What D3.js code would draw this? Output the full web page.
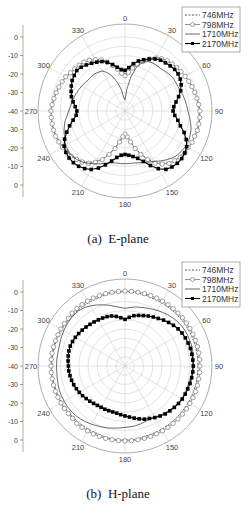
<!DOCTYPE html>
<html>
<head>
<meta charset="utf-8">
<script src="https://cdn.jsdelivr.net/npm/d3@7/dist/d3.min.js"></script>
<style>
  body { margin: 0; background: #fff; }
  svg { display: block; }
</style>
</head>
<body>
<script>
// angles in degrees, every 5 deg, clockwise from top
var ANGLES = d3.range(0, 360, 5);
var SERIES = ["746MHz", "798MHz", "1710MHz", "2170MHz"];
var RADIAL_TICKS = [0, -10, -20, -30, -40, -30, -20, -10, 0];
var ANGLE_TICKS = [0, 30, 60, 90, 120, 150, 180, 210, 240, 270, 300, 330];

// E-plane (dB)
var E_746 = [-20,-18.5,-16,-13.5,-11,-8.5,-6.5,-5,-4.5,-4,-3.5,-3,-2.5,-2,-1.5,-1,-0.5,0,
  0,0.5,0.5,0.5,0,0,-0.5,-1,-1.5,-2,-3.5,-5.5,-8,-11.5,-15.5,-19.5,-23.5,-26.5,
  -28,-26.5,-23.5,-19.5,-15.5,-11.5,-8.5,-6,-4.5,-3.5,-2.5,-2,-1.5,-1,-0.5,0,0,0,
  0,-0.5,-1,-1.5,-2,-2.5,-3.5,-4,-4.5,-5,-5.5,-6.5,-8,-9.5,-11.5,-14,-16.5,-18.5];
var E_798 = [-21,-19,-16.5,-14,-11.5,-9,-7,-5.5,-4.5,-4,-3.5,-3,-2.5,-2,-1.5,-1,-0.5,0,
  0.5,0.5,0.5,0.5,0,0,-0.5,-0.5,-1,-2,-3,-5,-7.5,-11,-15,-19,-23,-26,
  -27.5,-26,-23,-19,-15,-11,-8,-5.5,-4,-3,-2,-1.5,-1,-0.5,0,0,0,0,
  0,-0.5,-1,-1.5,-2,-2.5,-3,-4,-4.5,-5,-5.5,-6.5,-8,-9.5,-12,-14.5,-17,-19.5];
var E_1710 = [-34,-28,-21,-15,-12,-10.5,-10,-10,-10,-9.5,-9,-8.5,-8.5,-8.5,-8,-7.5,-7,-6.5,
  -6,-5,-4,-3,-2.5,-2,-2,-2.5,-3,-4,-5.5,-7,-8.5,-9.5,-10.5,-11,-11.5,-11.5,
  -11.5,-11.5,-11.5,-11,-10,-8.5,-7,-5.5,-4,-3,-2.5,-2.5,-3,-4,-5,-6,-7,-8.5,
  -9.5,-10.5,-11,-11.5,-12,-12.5,-13,-13.5,-14,-14,-14,-14.5,-15,-17,-20,-24,-28,-33];
var E_2170 = [-18,-16.5,-14,-12,-10.5,-9,-7.5,-6.5,-6,-5.5,-5,-5,-5.5,-6.5,-8,-10,-12,-13.5,
  -14,-13,-11,-9,-6,-3.5,-1.5,-0.5,0,0,-0.5,-1.5,-4,-7.5,-11,-13.5,-15,-16,
  -16.5,-16,-14.5,-12,-9,-6,-3.5,-2,-1,-0.5,-0.5,-1,-2,-4,-6.5,-9,-11.5,-13.5,
  -14,-13,-11.5,-10,-9,-8,-7,-6.5,-6,-6.5,-7.5,-8.5,-9.5,-10.5,-12,-14,-16,-17.5];

// H-plane (dB)
var H_746 = [0,0,0,0,-0.5,-0.5,-0.5,-0.5,-0.5,-0.5,-0.5,-0.5,-0.5,-0.5,-0.5,-0.5,-0.5,-0.5,
  -0.5,-0.5,-0.5,-0.5,-0.5,-0.5,-0.5,-0.5,-0.5,-0.5,-0.5,-0.5,-0.5,-0.5,-0.5,-0.5,0,0,
  0,0,0,0,-0.5,-0.5,-0.5,-0.5,-0.5,-0.5,-0.5,-0.5,-0.5,-0.5,-0.5,-0.5,-0.5,-0.5,
  -0.5,-0.5,-0.5,-0.5,-0.5,-0.5,-0.5,-0.5,-0.5,-0.5,-0.5,-0.5,-0.5,-0.5,-0.5,0,0,0];
var H_798 = [0.5,0.5,0.5,0.5,0.5,0.5,0.5,0.5,0.5,0.5,0.5,0.5,0.5,0.5,0.5,0.5,0.5,0.5,
  0.5,0.5,0.5,0.5,0.5,0.5,0.5,0.5,0.5,0.5,0.5,0.5,0.5,0.5,0.5,0.5,0.5,0.5,
  0.5,0.5,0.5,0.5,0.5,0.5,0.5,0.5,0.5,0,0,0,0,0,0,0,0,0,
  0,0,0,0,0,0,0,0,0,0.5,0.5,0.5,0.5,0.5,0.5,0.5,0.5,0.5];
var H_1710 = [-8.8,-8.3,-7.6,-7.2,-6.6,-6,-5.3,-4.6,-3.9,-3.3,-2.8,-2.5,-2.3,-2.3,-2.3,-2.4,-2.6,-2.8,
  -3.2,-3.6,-4,-4.3,-4.3,-4.3,-4.5,-5,-5.6,-6.2,-6.8,-7.4,-8,-8.3,-8,-7.6,-7.2,-7,
  -6.8,-6.4,-5.9,-5.3,-4.8,-4.3,-3.7,-3.1,-2.6,-2.2,-2,-1.9,-2,-2,-2.2,-2.5,-2.8,-3,
  -3,-3,-3,-3,-2.6,-2.2,-1.8,-1.4,-1.1,-1,-1,-1.5,-2.5,-3.6,-4.8,-6,-7.2,-8.2];
var H_2170 = [-14.8,-13.6,-12.4,-11.7,-11,-10.2,-9.4,-8.6,-7.6,-6.7,-5.8,-5,-4.4,-4,-3.7,-3.4,-3.3,-3.2,
  -3.1,-3.2,-3.4,-3.6,-3.9,-4.1,-4.3,-4.7,-5.2,-5.7,-6.2,-7,-7.8,-8.7,-9.4,-10.4,-11.4,-12.3,
  -13,-13.6,-14.1,-14.3,-14.3,-14.2,-14.2,-14,-13.6,-13.1,-12.6,-12,-11.5,-11,-10.5,-10.1,-9.8,-9.5,
  -9.4,-9.1,-8.8,-8.6,-8.5,-8.7,-9,-9.4,-9.8,-10.2,-10.6,-10.9,-11.2,-11.4,-11.6,-12,-12.8,-13.8];

var W = 252, H = 506;
var R_OUTER = 87;

var svg = d3.select("body").append("svg")
  .attr("width", W)
  .attr("height", H)
  .style("font-family", "'Liberation Sans', Arial, sans-serif");

var r = d3.scaleLinear().domain([-40, 0]).range([0, 74]);
var rad = function(deg) { return deg * Math.PI / 180; };

var STYLES = [
  {stroke: "#333", width: 0.8, dash: "2,1.5", marker: null},
  {stroke: "#777", width: 0.8, dash: null, marker: "circle"},
  {stroke: "#444", width: 0.8, dash: null, marker: null},
  {stroke: "#000", width: 1.1, dash: null, marker: "square"}
];

function drawPolar(cy, data, title) {
  var cx = 125;
  var g = svg.append("g").attr("transform", "translate(" + cx + "," + cy + ")");

  // radial grid rings every 5 dB
  g.selectAll("circle.ring")
    .data(d3.range(-35, 1, 5))
    .enter().append("circle")
    .attr("class", "ring")
    .attr("r", function(d) { return r(d); })
    .attr("fill", "none")
    .attr("stroke", "#d0d0d0")
    .attr("stroke-width", 0.6);

  g.selectAll("line.spoke")
    .data(ANGLE_TICKS)
    .enter().append("line")
    .attr("x1", 0).attr("y1", 0)
    .attr("x2", function(d) { return R_OUTER * Math.sin(rad(d)); })
    .attr("y2", function(d) { return -R_OUTER * Math.cos(rad(d)); })
    .attr("stroke", "#d0d0d0")
    .attr("stroke-width", 0.6);

  g.append("circle")
    .attr("r", R_OUTER)
    .attr("fill", "none")
    .attr("stroke", "#999")
    .attr("stroke-width", 0.8);

  g.selectAll("text.ang")
    .data(ANGLE_TICKS)
    .enter().append("text")
    .attr("x", function(d) { return 94 * Math.sin(rad(d)); })
    .attr("y", function(d) { return -93 * Math.cos(rad(d)) + 3; })
    .attr("text-anchor", "middle")
    .attr("font-size", 7.5)
    .attr("fill", "#444")
    .text(function(d) { return d; });

  // left radial axis
  var y = d3.scaleLinear().domain([0, RADIAL_TICKS.length - 1]).range([-74, 74]);
  var ax = svg.append("g").attr("transform", "translate(23," + cy + ")");
  ax.append("line")
    .attr("x1", 0).attr("x2", 0)
    .attr("y1", -R_OUTER + 1).attr("y2", R_OUTER - 1)
    .attr("stroke", "#999").attr("stroke-width", 0.8);
  var t = ax.selectAll("g.tick")
    .data(RADIAL_TICKS)
    .enter().append("g")
    .attr("transform", function(d, i) { return "translate(0," + y(i) + ")"; });
  t.append("line").attr("x1", -3).attr("x2", 0).attr("stroke", "#777").attr("stroke-width", 0.7);
  t.append("text")
    .attr("x", -5).attr("y", 2.5)
    .attr("text-anchor", "end")
    .attr("font-size", 7)
    .attr("fill", "#444")
    .text(function(d) { return d; });

  // curves
  var line = d3.lineRadial()
    .angle(function(d) { return rad(d.a); })
    .radius(function(d) { return r(d.v); })
    .curve(d3.curveLinearClosed);

  data.forEach(function(vals, i) {
    var st = STYLES[i];
    var pts = ANGLES.map(function(a, k) { return {a: a, v: vals[k]}; });
    g.append("path")
      .datum(pts)
      .attr("d", line)
      .attr("fill", "none")
      .attr("stroke", st.stroke)
      .attr("stroke-width", st.width)
      .attr("stroke-dasharray", st.dash);
    var px = function(d) { return r(d.v) * Math.sin(rad(d.a)); };
    var py = function(d) { return -r(d.v) * Math.cos(rad(d.a)); };
    if (st.marker === "circle") {
      g.selectAll(null).data(pts).enter().append("circle")
        .attr("cx", px).attr("cy", py).attr("r", 2.2)
        .attr("fill", "#fff").attr("stroke", st.stroke).attr("stroke-width", 0.7);
    } else if (st.marker === "square") {
      g.selectAll(null).data(pts).enter().append("rect")
        .attr("x", function(d) { return px(d) - 1.8; })
        .attr("y", function(d) { return py(d) - 1.8; })
        .attr("width", 3.6).attr("height", 3.6)
        .attr("fill", "#000");
    }
  });

  // legend
  var lg = svg.append("g").attr("transform", "translate(182," + (cy - 104) + ")");
  lg.append("rect")
    .attr("width", 58).attr("height", 45)
    .attr("fill", "#fff").attr("stroke", "#888").attr("stroke-width", 0.7);
  SERIES.forEach(function(name, i) {
    var st = STYLES[i];
    var ly = 8 + i * 9.5;
    lg.append("line")
      .attr("x1", 3).attr("x2", 18).attr("y1", ly).attr("y2", ly)
      .attr("stroke", st.stroke).attr("stroke-width", st.width)
      .attr("stroke-dasharray", st.dash);
    if (st.marker === "circle") {
      lg.append("circle").attr("cx", 10.5).attr("cy", ly).attr("r", 2)
        .attr("fill", "#fff").attr("stroke", st.stroke).attr("stroke-width", 0.7);
    } else if (st.marker === "square") {
      lg.append("rect").attr("x", 9).attr("y", ly - 1.5).attr("width", 3).attr("height", 3).attr("fill", "#000");
    }
    lg.append("text")
      .attr("x", 20).attr("y", ly + 3)
      .attr("font-size", 8.5)
      .attr("fill", "#333")
      .text(name);
  });

  svg.append("text")
    .attr("x", 118).attr("y", cy + 132)
    .attr("text-anchor", "middle")
    .attr("font-family", "'Liberation Serif', 'Times New Roman', serif")
    .attr("font-size", 13)
    .attr("fill", "#111")
    .attr("xml:space", "preserve")
    .text(title);
}

drawPolar(111, [E_746, E_798, E_1710, E_2170], "(a)  E-plane");
drawPolar(366, [H_746, H_798, H_1710, H_2170], "(b)  H-plane");
</script>
</body>
</html>
